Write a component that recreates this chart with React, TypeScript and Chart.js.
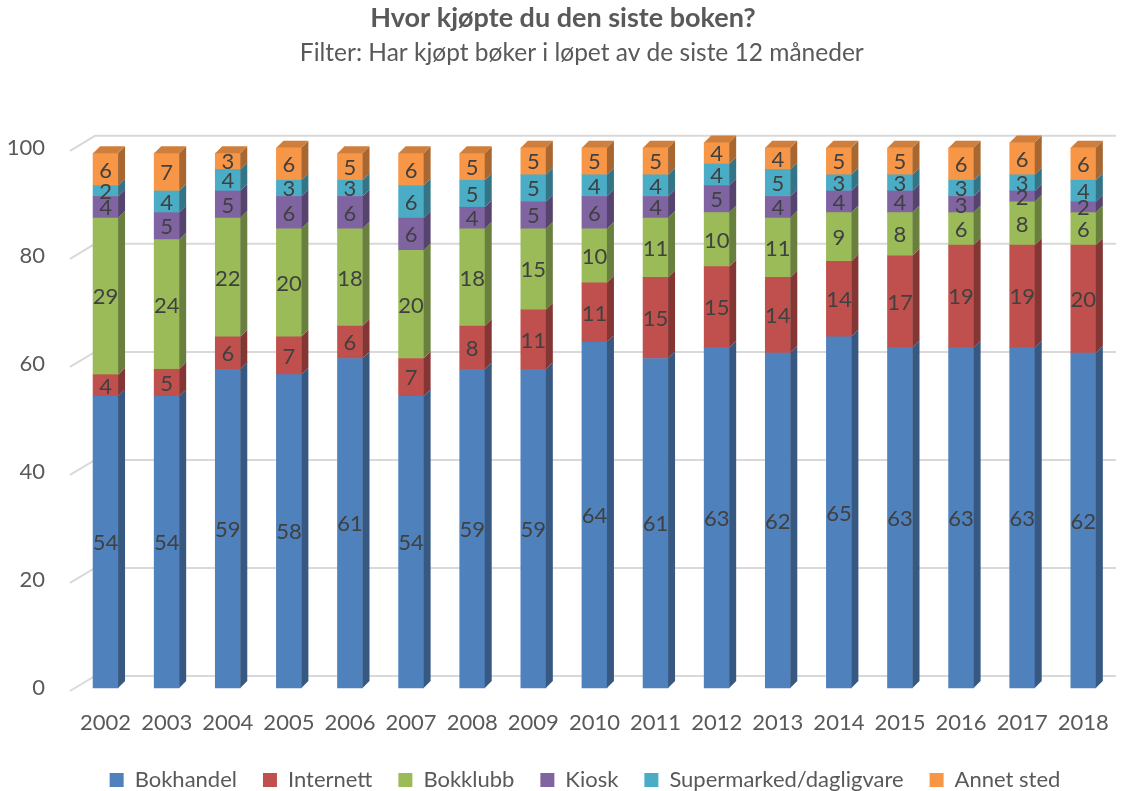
import React, { useEffect, useRef } from "react";
import { Chart, registerables } from "chart.js";

Chart.register(...registerables);

const years = ["2002", "2003", "2004", "2005", "2006", "2007", "2008", "2009", "2010", "2011", "2012", "2013", "2014", "2015", "2016", "2017", "2018"];
const bokhandel = [54, 54, 59, 58, 61, 54, 59, 59, 64, 61, 63, 62, 65, 63, 63, 63, 62];
const internett = [4, 5, 6, 7, 6, 7, 8, 11, 11, 15, 15, 14, 14, 17, 19, 19, 20];
const bokklubb = [29, 24, 22, 20, 18, 20, 18, 15, 10, 11, 10, 11, 9, 8, 6, 8, 6];
const kiosk = [4, 5, 5, 6, 6, 6, 4, 5, 6, 4, 5, 4, 4, 4, 3, 2, 2];
const supermarked = [2, 4, 4, 3, 3, 6, 5, 5, 4, 4, 4, 5, 3, 3, 3, 3, 4];
const annet = [6, 7, 3, 6, 5, 6, 5, 5, 5, 5, 4, 4, 5, 5, 6, 6, 6];
const yTicks = [0, 20, 40, 60, 80, 100];

const seriesNames = ["Bokhandel", "Internett", "Bokklubb", "Kiosk", "Supermarked/dagligvare", "Annet sted"];
const seriesColors = ["#4f81bd", "#c0504d", "#9bbb59", "#8064a2", "#4bacc6", "#f79646"];

const FONT = "Lato, 'Noto Sans', sans-serif";
const TEXT = "#595959";

function shade(hex: string, f: number) {
  const n = parseInt(hex.slice(1), 16);
  const r = Math.round(((n >> 16) & 255) * f);
  const g = Math.round(((n >> 8) & 255) * f);
  const b = Math.round((n & 255) * f);
  return `rgb(${r},${g},${b})`;
}

const DEPTH = 7;

const gridPlugin = {
  id: "backGrid",
  beforeDatasetsDraw(chart: any) {
    const ctx = chart.ctx;
    const ys = chart.scales.y;
    const left = chart.chartArea.left;
    ctx.save();
    ctx.strokeStyle = "#d9d9d9";
    ctx.lineWidth = 2;
    yTicks.forEach((v) => {
      const yf = ys.getPixelForValue(v);
      ctx.beginPath();
      ctx.moveTo(left - 5, yf + 3);
      ctx.lineTo(left + 20, yf - 12);
      ctx.lineTo(1116, yf - 12);
      ctx.stroke();
    });
    ctx.restore();
  },
};

const bar3dPlugin = {
  id: "bar3d",
  afterDatasetsDraw(chart: any) {
    const ctx = chart.ctx;
    const n = chart.data.datasets.length;
    ctx.save();
    chart.data.datasets.forEach((ds: any, i: number) => {
      const meta = chart.getDatasetMeta(i);
      meta.data.forEach((el: any) => {
        const p = el.getProps(["x", "y", "base", "width"], true);
        const l = p.x - p.width / 2;
        const r = p.x + p.width / 2;
        const t = Math.min(p.y, p.base);
        const b = Math.max(p.y, p.base);
        ctx.fillStyle = shade(ds.backgroundColor, 0.68);
        ctx.beginPath();
        ctx.moveTo(r, t);
        ctx.lineTo(r + DEPTH, t - DEPTH);
        ctx.lineTo(r + DEPTH, b - DEPTH);
        ctx.lineTo(r, b);
        ctx.closePath();
        ctx.fill();
        if (i === n - 1) {
          ctx.fillStyle = shade(ds.backgroundColor, 0.84);
          ctx.beginPath();
          ctx.moveTo(l, t);
          ctx.lineTo(l + DEPTH, t - DEPTH);
          ctx.lineTo(r + DEPTH, t - DEPTH);
          ctx.lineTo(r, t);
          ctx.closePath();
          ctx.fill();
        }
      });
    });
    ctx.restore();
  },
};

const labelPlugin = {
  id: "segLabels",
  afterDatasetsDraw(chart: any) {
    const ctx = chart.ctx;
    ctx.save();
    ctx.fillStyle = "#404040";
    ctx.font = `22px ${FONT}`;
    ctx.textAlign = "center";
    ctx.textBaseline = "middle";
    chart.data.datasets.forEach((ds: any, i: number) => {
      const meta = chart.getDatasetMeta(i);
      meta.data.forEach((el: any, j: number) => {
        const p = el.getProps(["x", "y", "base"], true);
        ctx.fillText(String(ds.data[j]), p.x, (p.y + p.base) / 2 + 1);
      });
    });
    ctx.restore();
  },
};

const legendShiftPlugin = {
  id: "legendShift",
  afterLayout(chart: any) {
    if (chart.legend) {
      chart.legend.left += 22;
      chart.legend.right += 22;
    }
  },
};

export default function App() {
  const ref = useRef<HTMLCanvasElement | null>(null);
  useEffect(() => {
    if (!ref.current) return;
    const all = [bokhandel, internett, bokklubb, kiosk, supermarked, annet];
    const chart = new Chart(ref.current, {
      type: "bar",
      data: {
        labels: years,
        datasets: all.map((d, i) => ({
          label: seriesNames[i],
          data: d,
          backgroundColor: seriesColors[i],
          borderWidth: 0,
          barThickness: 25,
          clip: false as any,
        })),
      },
      options: {
        animation: false,
        responsive: true,
        maintainAspectRatio: false,
        layout: { padding: { left: 0, right: 5, top: 0, bottom: -10 } },
        plugins: {
          tooltip: { enabled: false },
          title: {
            display: true,
            text: "Hvor kjøpte du den siste boken?",
            color: TEXT,
            font: { family: FONT, size: 27, weight: "bold" },
            padding: { top: 2, bottom: 1 },
          },
          subtitle: {
            display: true,
            text: "      Filter: Har kjøpt bøker i løpet av de siste 12 måneder",
            color: TEXT,
            font: { family: FONT, size: 24.5 },
            padding: { top: 3, bottom: 80 },
          },
          legend: {
            position: "bottom",
            labels: {
              boxWidth: 14,
              boxHeight: 14,
              padding: 26,
              color: TEXT,
              font: { family: FONT, size: 22 },
            },
          },
        },
        scales: {
          x: {
            stacked: true,
            afterFit: (s: any) => {
              s.height = 55;
            },
            grid: { display: false, drawTicks: false },
            border: { display: false },
            ticks: { color: TEXT, font: { family: FONT, size: 22 }, padding: 22 },
          },
          y: {
            stacked: true,
            min: 0,
            max: 100,
            afterFit: (s: any) => {
              s.width = 75;
            },
            afterBuildTicks: (s: any) => {
              s.ticks = yTicks.map((v) => ({ value: v }));
            },
            grid: { display: false, drawTicks: false },
            border: { display: false },
            ticks: { color: TEXT, font: { family: FONT, size: 22 }, padding: 30 },
          },
        },
      },
      plugins: [gridPlugin, bar3dPlugin, labelPlugin, legendShiftPlugin],
    });
    return () => chart.destroy();
  }, []);
  return (
    <div style={{ position: "absolute", left: 0, top: 0, width: 1131, height: 791, background: "#fff" }}>
      <canvas ref={ref} />
    </div>
  );
}
